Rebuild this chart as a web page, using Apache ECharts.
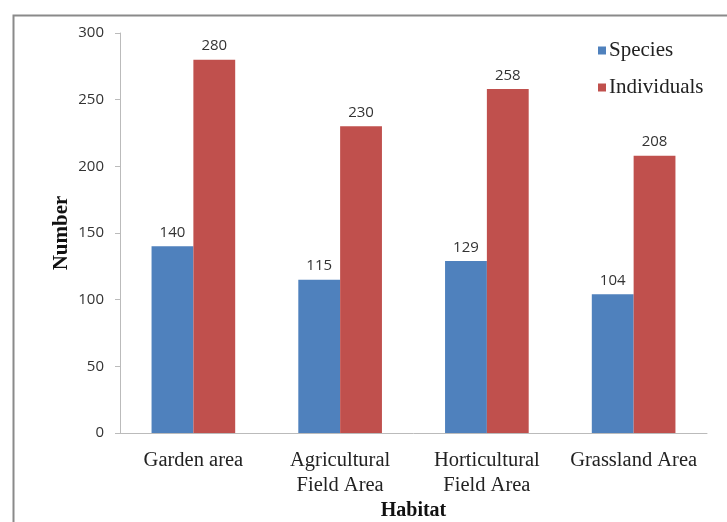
<!DOCTYPE html>
<html>
<head>
<meta charset="utf-8">
<style>html,body{margin:0;padding:0;background:#fff;}#c{width:727px;height:522px;}</style>
<script src="https://cdn.jsdelivr.net/npm/echarts@6/dist/echarts.min.js"></script>
</head>
<body>
<div id="c"></div>
<script>
const categories = ['Garden area', 'Agricultural\nField Area', 'Horticultural\nField Area', 'Grassland Area'];
const species = [140, 115, 129, 104];
const individuals = [280, 230, 258, 208];
const yTicks = { min: 0, max: 300, interval: 50 };

const chart = echarts.init(document.getElementById('c'), null, { renderer: 'canvas' });
const serif = '"Liberation Serif", "Times New Roman", serif';
const sans = '"Open Sans", "Liberation Sans", sans-serif';
chart.setOption({
  animation: false,
  backgroundColor: '#fff',
  graphic: [{
    type: 'rect', left: 11, top: 13, shape: { width: 740, height: 530 },
    style: { fill: 'none', stroke: '#8a8a8a', lineWidth: 2 }, silent: true
  }],
  grid: { left: 120, right: 20, top: 33, bottom: 89, outerBoundsMode: 'none', containLabel: false },
  legend: {
    orient: 'vertical', left: 593, top: 35, itemWidth: 8, itemHeight: 8, itemGap: 16,
    icon: 'rect',
    textStyle: { fontFamily: serif, fontSize: 21, color: '#222', padding: [0, 0, 0, -2] },
    data: ['Species', 'Individuals']
  },
  xAxis: {
    type: 'category', data: categories,
    name: 'Habitat', nameLocation: 'middle', nameGap: 68, nameMoveOverlap: false,
    nameTextStyle: { fontFamily: serif, fontSize: 20, fontWeight: 'bold', color: '#111' },
    axisLine: { lineStyle: { color: '#bbb', width: 1 } },
    axisTick: { show: false },
    axisLabel: { fontFamily: serif, fontSize: 20.5, color: '#222', margin: 15, lineHeight: 25, interval: 0 }
  },
  yAxis: {
    type: 'value', min: yTicks.min, max: yTicks.max, interval: yTicks.interval,
    name: 'Number', nameLocation: 'middle', nameGap: 48, nameRotate: 90, nameMoveOverlap: false,
    nameTextStyle: { fontFamily: serif, fontSize: 21, fontWeight: 'bold', color: '#111' },
    axisLine: { show: true, lineStyle: { color: '#bbb', width: 1 } },
    axisTick: { show: true, length: 5, lineStyle: { color: '#bbb' } },
    axisLabel: { fontFamily: sans, fontSize: 15, color: '#333', margin: 16 },
    splitLine: { show: false }
  },
  series: [
    {
      name: 'Species', type: 'bar', data: species, barGap: '0%', barCategoryGap: '43%',
      itemStyle: { color: '#4F81BD' },
      label: { show: true, position: 'top', distance: 6, fontFamily: sans, fontSize: 15, color: '#333' }
    },
    {
      name: 'Individuals', type: 'bar', data: individuals,
      itemStyle: { color: '#C0504D' },
      label: { show: true, position: 'top', distance: 6, fontFamily: sans, fontSize: 15, color: '#333' }
    }
  ]
});
</script>
</body>
</html>
